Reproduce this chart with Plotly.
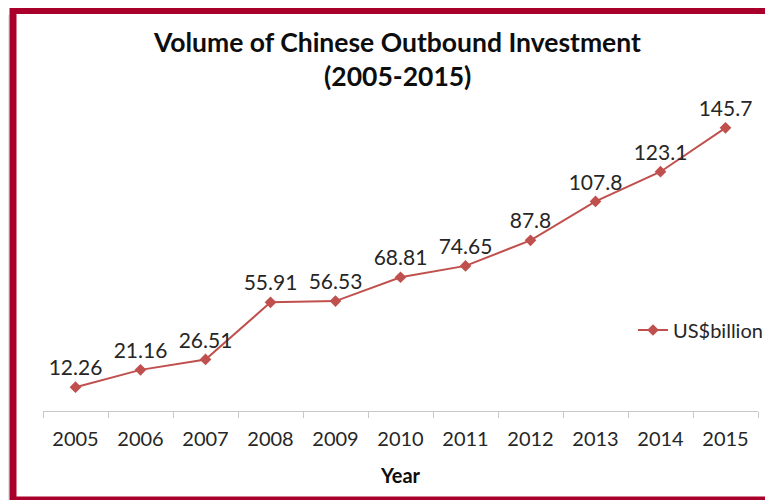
import plotly.graph_objects as go

years = ["2005", "2006", "2007", "2008", "2009", "2010", "2011", "2012", "2013", "2014", "2015"]
values = [12.26, 21.16, 26.51, 55.91, 56.53, 68.81, 74.65, 87.8, 107.8, 123.1, 145.7]
labels = ["12.26", "21.16", "26.51", "55.91", "56.53", "68.81", "74.65", "87.8", "107.8", "123.1", "145.7"]
title_lines = ["Volume of Chinese Outbound Investment", "(2005-2015)"]

W, H = 773, 500
OFF = 8  # page body margin offset
# plot area in reference-pixel coordinates
PX0, PX1, PY0, PY1 = 43, 758, 100, 411
L, T = PX0 - OFF, PY0 - OFF
R, B = W - (PX1 - OFF), H - (PY1 - OFF)
pw, ph = PX1 - PX0, PY1 - PY0

def px_x(x):
    return (x - PX0) / pw

def px_y(y):
    return (PY1 - y) / ph

fig = go.Figure()
fig.add_trace(go.Scatter(
    x=years, y=values, mode="lines+markers+text",
    name="US$billion",
    text=labels, textposition="top center",
    textfont=dict(family="Lato", size=21, color="#262626"),
    line=dict(color="#C0504D", width=2),
    marker=dict(symbol="diamond", size=9, color="#C0504D"),
    cliponaxis=False,
))

annotations = []
for line, ypx in zip(title_lines, [42, 76]):
    annotations.append(dict(
        text="<b>" + line + "</b>", xref="paper", yref="paper",
        x=px_x(397), y=px_y(ypx), xanchor="center", yanchor="middle",
        showarrow=False, font=dict(family="Lato", size=26.5, color="#0d0d0d"),
    ))

fig.update_layout(
    width=W, height=H,
    margin=dict(l=L, r=R, t=T, b=B, autoexpand=False),
    paper_bgcolor="white", plot_bgcolor="white",
    font=dict(family="Lato", color="#262626"),
    annotations=annotations,
    xaxis=dict(
        type="category", range=[-0.5, len(years) - 0.5], autorange=False,
        showgrid=False, showline=True, linecolor="#C8C8C8", linewidth=1,
        ticks="outside", tickson="boundaries", ticklen=6, tickcolor="#C8C8C8",
        ticklabelstandoff=10,
        tickfont=dict(family="Lato", size=20, color="#262626"),
        title=dict(text="<b>Year</b>", font=dict(family="Lato", size=20, color="#0d0d0d"), standoff=19),
        zeroline=False,
    ),
    yaxis=dict(range=[0, 160], visible=False, showgrid=False, zeroline=False),
    showlegend=True,
    legend=dict(
        x=px_x(633), y=px_y(330), xanchor="left", yanchor="middle",
        xref="paper", yref="paper",
        font=dict(family="Lato", size=20, color="#262626"),
        bgcolor="rgba(0,0,0,0)", itemwidth=30,
    ),
    shapes=[
        dict(type="line", xref="paper", yref="paper",
             x0=px_x(7.5), x1=px_x(7.5), y0=px_y(505), y1=px_y(15),
             line=dict(color="#E4E4E4", width=4), layer="above"),
        dict(type="rect", xref="paper", yref="paper",
             x0=px_x(13), x1=px_x(800), y0=px_y(500), y1=px_y(10.5),
             line=dict(color="#A8002B", width=7), fillcolor="rgba(0,0,0,0)", layer="above"),
    ],
)

fig.write_html("out.html")
